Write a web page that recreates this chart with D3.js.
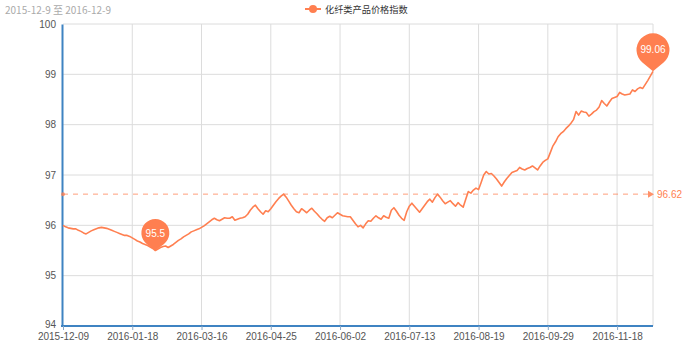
<!DOCTYPE html>
<html>
<head>
<meta charset="utf-8">
<script src="https://cdn.jsdelivr.net/npm/d3@7"></script>
<style>
  html, body { margin: 0; padding: 0; background: #fff; }
  svg { display: block; font-family: "Noto Sans CJK SC", "Noto Sans", sans-serif; }
</style>
</head>
<body>
<svg id="chart" width="700" height="359"></svg>
<script>
// ---------- data ----------
const subtitle = "2015-12-9 至 2016-12-9";
const seriesName = "化纤类产品价格指数";
const tickLabels = ["2015-12-09","2016-01-18","2016-03-16","2016-04-25","2016-06-02","2016-07-13","2016-08-19","2016-09-29","2016-11-18"];
const tickIndex = [0, 27, 54, 81, 108, 135, 162, 189, 216];
const yTicks = [94, 95, 96, 97, 98, 99, 100];
const values = [
  96.00,95.97,95.95,95.94,95.93,95.93,95.90,95.88,95.85,95.83,
  95.86,95.89,95.91,95.93,95.95,95.96,95.95,95.94,95.92,95.90,
  95.88,95.86,95.84,95.82,95.80,95.80,95.78,95.75,95.72,95.69,
  95.67,95.64,95.62,95.60,95.57,95.54,95.50,95.53,95.56,95.58,
  95.59,95.56,95.59,95.62,95.66,95.70,95.73,95.77,95.80,95.83,
  95.87,95.89,95.91,95.93,95.96,95.99,96.03,96.07,96.11,96.14,
  96.11,96.09,96.12,96.15,96.14,96.14,96.17,96.10,96.12,96.14,
  96.15,96.17,96.22,96.30,96.36,96.40,96.33,96.27,96.22,96.29,
  96.27,96.33,96.40,96.47,96.53,96.58,96.62,96.56,96.48,96.40,
  96.33,96.27,96.25,96.33,96.29,96.25,96.30,96.34,96.28,96.23,
  96.17,96.12,96.08,96.15,96.18,96.15,96.20,96.25,96.22,96.19,
  96.18,96.17,96.17,96.10,96.03,95.97,96.00,95.95,96.03,96.09,
  96.08,96.14,96.19,96.15,96.12,96.19,96.16,96.14,96.30,96.35,
  96.28,96.20,96.14,96.10,96.27,96.38,96.44,96.38,96.32,96.26,
  96.33,96.40,96.47,96.52,96.46,96.55,96.62,96.56,96.49,96.43,
  96.46,96.49,96.43,96.38,96.45,96.40,96.36,96.52,96.67,96.64,
  96.70,96.74,96.71,96.85,97.00,97.07,97.02,97.03,96.98,96.92,
  96.85,96.78,96.86,96.93,96.99,97.05,97.07,97.09,97.15,97.12,
  97.10,97.13,97.15,97.18,97.14,97.10,97.18,97.25,97.29,97.32,
  97.45,97.58,97.66,97.76,97.82,97.86,97.92,97.97,98.03,98.10,
  98.26,98.19,98.27,98.25,98.24,98.17,98.21,98.26,98.29,98.35,
  98.48,98.42,98.37,98.45,98.52,98.54,98.56,98.64,98.61,98.59,
  98.60,98.61,98.69,98.66,98.71,98.74,98.72,98.80,98.88,98.97,
  99.06
];
const avgValue = 96.62;
const minLabel = "95.5";
const maxLabel = "99.06";

// ---------- layout ----------
const svg = d3.select("#chart");
const mLeft = 63, mRight = 653, mTop = 24, mBottom = 326;
const coral = "#ff7f50";
const axisBlue = "#3f83c2";
const numFont = "'Liberation Sans', Arial, sans-serif";

const x = d3.scaleLinear().domain([0, values.length - 1]).range([mLeft, mRight]);
const y = d3.scaleLinear().domain([94, 100]).range([mBottom, mTop]);

// subtitle
svg.append("text").attr("x", 5).attr("y", 9).attr("dominant-baseline", "central")
  .attr("font-size", 10).attr("fill", "#aaa").text(subtitle);

// legend
const lg = svg.append("g");
lg.append("line").attr("x1", 305).attr("x2", 321).attr("y1", 9).attr("y2", 9)
  .attr("stroke", coral).attr("stroke-width", 2);
lg.append("circle").attr("cx", 313).attr("cy", 9).attr("r", 4).attr("fill", coral);
lg.append("text").attr("x", 325).attr("y", 9).attr("dominant-baseline", "central")
  .attr("font-size", 9.2).attr("fill", "#333").text(seriesName);

// horizontal grid
svg.append("g").selectAll("line").data(yTicks).join("line")
  .attr("x1", mLeft).attr("x2", mRight)
  .attr("y1", d => y(d)).attr("y2", d => y(d))
  .attr("stroke", "#dcdcdc").attr("stroke-width", 1);

// vertical grid
svg.append("g").selectAll("line").data(tickIndex.slice(1).concat([values.length - 1])).join("line")
  .attr("x1", d => x(d)).attr("x2", d => x(d))
  .attr("y1", mTop).attr("y2", mBottom)
  .attr("stroke", "#dcdcdc").attr("stroke-width", 1);

// y axis
const yAxis = d3.axisLeft(y).tickValues(yTicks).tickSize(0).tickPadding(6).tickFormat(d3.format("d"));
const yg = svg.append("g").attr("transform", `translate(${mLeft - 1},0)`).call(yAxis);
yg.select(".domain").attr("stroke", axisBlue).attr("stroke-width", 2);
yg.selectAll("text").attr("font-size", 10).attr("fill", "#555").attr("font-family", numFont)
  .attr("dy", d => d === 94 ? "0.15em" : "0.32em");

// x axis
const xAxis = d3.axisBottom(x).tickValues(tickIndex).tickSize(4).tickSizeOuter(0).tickPadding(3)
  .tickFormat((d, i) => tickLabels[i]);
const xg = svg.append("g").attr("transform", `translate(0,${mBottom})`).call(xAxis);
xg.select(".domain").attr("stroke", axisBlue).attr("stroke-width", 2)
  .attr("d", `M${mLeft - 2},0H${mRight}`);
xg.selectAll(".tick line").attr("stroke", "#8aa9c8");
xg.selectAll("text").attr("font-size", 10).attr("fill", "#555").attr("font-family", numFont);

// average line
const ay = y(avgValue);
svg.append("line").attr("x1", mLeft).attr("x2", mRight - 4).attr("y1", ay).attr("y2", ay)
  .attr("stroke", coral).attr("stroke-opacity", 0.75).attr("stroke-width", 1)
  .attr("stroke-dasharray", "5,5");
svg.append("circle").attr("cx", mLeft).attr("cy", ay).attr("r", 2).attr("fill", coral).attr("fill-opacity", 0.75);
svg.append("path").attr("d", `M${mRight - 5},${ay - 3.5}L${mRight + 1},${ay}L${mRight - 5},${ay + 3.5}Z`)
  .attr("fill", coral).attr("fill-opacity", 0.85);
svg.append("text").attr("x", mRight + 4).attr("y", ay).attr("dominant-baseline", "central")
  .attr("font-size", 10).attr("font-family", numFont).attr("fill", coral).text(avgValue.toFixed(2));

// series line
const line = d3.line().x((d, i) => x(i)).y(d => y(d));
svg.append("path").datum(values).attr("d", line)
  .attr("fill", "none").attr("stroke", coral).attr("stroke-width", 1.6)
  .attr("stroke-linejoin", "round");

// mark points (pins)
function pinPath(r, d) {
  const phi = Math.acos(r / d);
  const sx = r * Math.sin(phi), sy = -d + r * Math.cos(phi);
  return `M0,0L${-sx},${sy}A${r},${r} 0 1 1 ${sx},${sy}Z`;
}
const minIdx = d3.minIndex(values), maxIdx = d3.maxIndex(values);
const pins = [
  { i: minIdx, label: minLabel, r: 14, d: 17.5 },
  { i: maxIdx, label: maxLabel, r: 16.5, d: 21.5 }
];
const pg = svg.append("g").selectAll("g").data(pins).join("g")
  .attr("transform", p => `translate(${x(p.i)},${y(values[p.i])})`);
pg.append("path").attr("d", p => pinPath(p.r, p.d)).attr("fill", coral);
pg.append("text").attr("x", 0).attr("y", p => -p.d).attr("text-anchor", "middle")
  .attr("dominant-baseline", "central").attr("font-size", 10).attr("font-family", numFont)
  .attr("fill", "#fff").text(p => p.label);
</script>
</body>
</html>
